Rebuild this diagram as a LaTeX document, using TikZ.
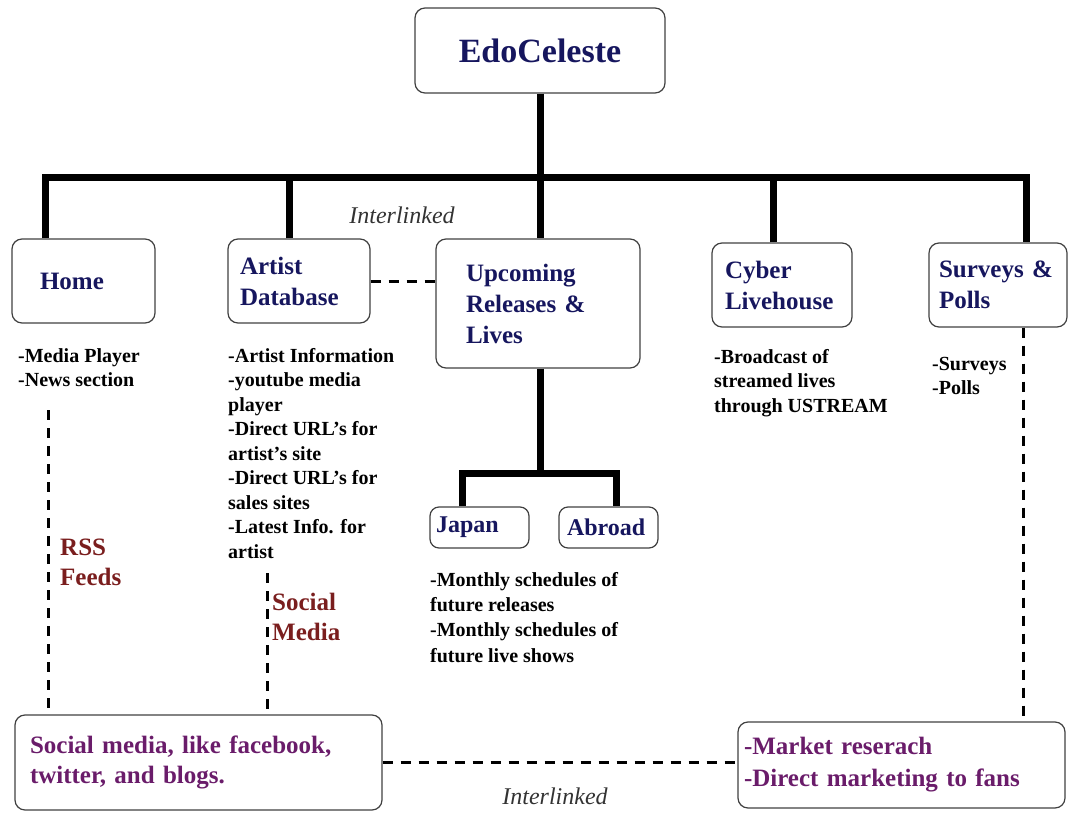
\documentclass[tikz,border=0pt]{standalone}
\usepackage{fontspec}
\setmainfont{Liberation Serif}
\usepackage{xcolor}
\usetikzlibrary{positioning}
\definecolor{titleblue}{HTML}{16165E}
\definecolor{linkred}{HTML}{7A1E1E}
\definecolor{notepurple}{HTML}{6A1C6A}

\begin{document}
\begin{tikzpicture}[x=1pt, y=-1pt,
    box/.style={draw=black!75, line width=1.2pt, rounded corners=10pt, align=left, text=titleblue, font=\fontsize{25}{31}\selectfont\bfseries},
    note/.style={anchor=north west, inner sep=0pt, align=left, font=\fontsize{20}{24.5}\selectfont\bfseries},
    link/.style={anchor=north west, inner sep=0pt, align=left, text=linkred, font=\fontsize{25}{30}\selectfont\bfseries},
    trunk/.style={line width=7pt},
    dashline/.style={line width=3pt, dash pattern=on 10pt off 8pt},
    ilabel/.style={font=\fontsize{24}{28}\selectfont\itshape, text=black!80}]

    \useasboundingbox (0,0) rectangle (1068,813);

    % Main boxes
    \node[box, minimum width=250pt, minimum height=85pt, align=center, font=\fontsize{34}{40}\selectfont\bfseries] (edo) at (540,50.5) {EdoCeleste};
    \node[box, inner xsep=28pt, text width=87pt, minimum height=84pt] (home) at (83.5,281) {Home};
    \node[box, inner xsep=12pt, text width=118pt, minimum height=84pt] (artist) at (299,281) {Artist\\Database};
    \node[box, inner xsep=30pt, text width=144pt, minimum height=129pt] (upcoming) at (538,303.5) {Upcoming\\Releases \&\\Lives};
    \node[box, inner xsep=13pt, text width=114pt, minimum height=84pt] (cyber) at (782,285) {Cyber\\Livehouse};
    \node[box, inner xsep=10pt, text width=118pt, minimum height=84pt] (surveys) at (998,285) {Surveys \&\\Polls};

    % Release boxes
    \node[box, rounded corners=9pt, inner xsep=6pt, text width=87pt, minimum height=41pt, font=\fontsize{24}{28}\selectfont\bfseries] (japan) at (479.5,527.5) {Japan};
    \node[box, rounded corners=9pt, inner xsep=8pt, text width=83pt, minimum height=41pt, font=\fontsize{24}{28}\selectfont\bfseries] (abroad) at (608.5,527.5) {Abroad};

    % Outreach boxes
    \node[box, inner xsep=15pt, text width=337pt, minimum height=95pt, text=notepurple, font=\fontsize{25}{30}\selectfont\bfseries] (social) at (198.5,762.5) {Social media, like facebook,\\twitter, and blogs.};
    \node[box, inner xsep=6pt, text width=315pt, minimum height=86pt, text=notepurple, font=\fontsize{25}{32}\selectfont\bfseries] (market) at (901.5,765) {-Market reserach\\-Direct marketing to fans};

    % Tree
    \coordinate (bar) at (540,178);
    \coordinate (homeup) at ([xshift=34pt]home.north west);
    \coordinate (artup) at ([xshift=62pt]artist.north west);
    \coordinate (cyberup) at ([xshift=62pt]cyber.north west);
    \coordinate (surveyup) at ([xshift=98pt]surveys.north west);
    \draw[trunk] (homeup) |- (bar) -| (surveyup);
    \draw[trunk] (artup) -- (artup |- bar);
    \draw[trunk] (cyberup) -- (cyberup |- bar);
    \draw[trunk] (edo.south) -- (edo.south |- upcoming.north);

    \coordinate (subbar) at (540,473);
    \coordinate (jpup) at ([xshift=33pt]japan.north west);
    \coordinate (abup) at ([xshift=58pt]abroad.north west);
    \draw[trunk] (subbar |- upcoming.south) -- (subbar);
    \draw[trunk] (jpup) |- (subbar) -| (abup);

    % Notes
    \node[note] (homenotes) at (18,348) {-Media Player\\-News section};
    \node[note] (artistnotes) at (228,348) {-Artist Information\\-youtube media\\player\\-Direct URL's for\\artist's site\\-Direct URL's for\\sales sites\\-Latest Info. for\\artist};
    \node[note] (cybernotes) at (714,349) {-Broadcast of\\streamed lives\\through USTREAM};
    \node[note] (surveynotes) at (932,357) {-Surveys\\-Polls};
    \node[note, font=\fontsize{20}{25.3}\selectfont\bfseries] (releasenotes) at (430,572) {-Monthly schedules of\\future releases\\-Monthly schedules of\\future live shows};

    % Links
    \node[link] (rss) at (60,539) {RSS\\Feeds};
    \node[link] (socialtag) at (272,593) {Social\\Media};

    \coordinate (rsstop) at (48,410);
    \coordinate (smtop) at (267,573);
    \coordinate (svdown) at ([xshift=95pt]surveys.south west);
    \draw[dashline] (rsstop) -- (rsstop |- social.north);
    \draw[dashline] (smtop) -- (smtop |- social.north);
    \draw[dashline] (svdown) -- (svdown |- market.north);
    \draw[dashline] (artist.east) -- (artist.east -| upcoming.west);
    \draw[dashline] (social.east) -- (social.east -| market.west);

    \node[ilabel] (toplink) at (402,215) {Interlinked};
    \node[ilabel] (bottomlink) at (555,796) {Interlinked};
\end{tikzpicture}
\end{document}
